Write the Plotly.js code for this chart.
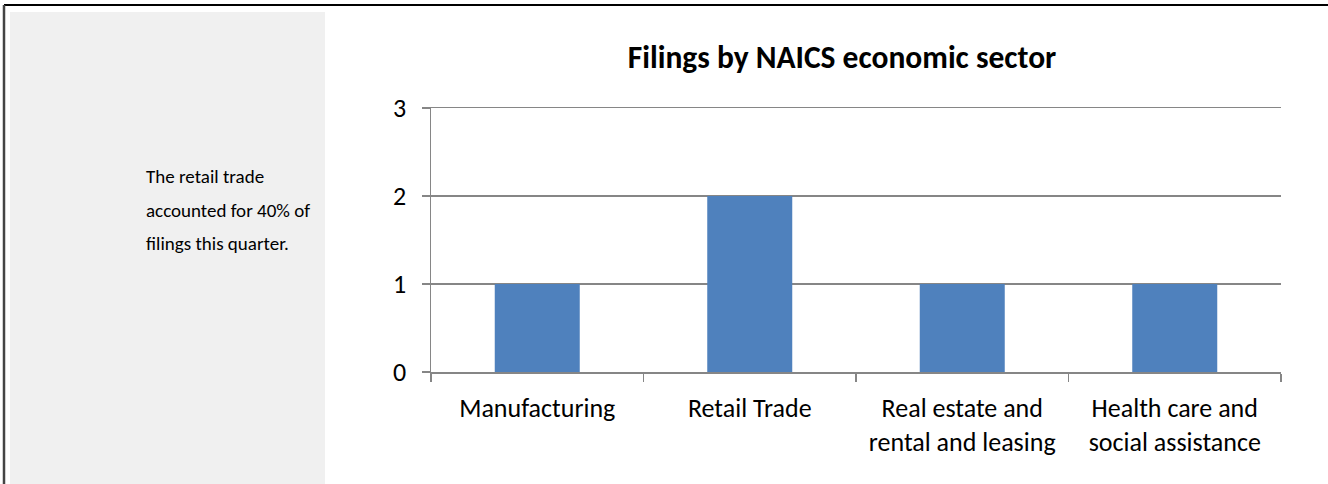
<!DOCTYPE html>
<html>
<head>
<meta charset="utf-8">
<script src="https://cdn.plot.ly/plotly-3.0.1.min.js"></script>
<style>
  html, body { margin: 0; padding: 0; background: #fff; }
  #chart { width: 1328px; height: 484px; }
</style>
</head>
<body>
<div id="chart"></div>
<script>
const categories = ["Manufacturing", "Retail Trade", "Real estate and<br>rental and leasing", "Health care and<br>social assistance"];
const filings = [1, 2, 1, 1];
const yTicks = [0, 1, 2, 3];
const chartTitle = "Filings by NAICS economic sector";
const sideNoteLines = ["The retail trade", "accounted for 40% of", "filings this quarter."];

const font = "Carlito, Calibri, Lato, 'Open Sans', sans-serif";

const trace = {
  type: "bar",
  x: categories,
  y: filings,
  marker: { color: "#4f81bd" },
  hoverinfo: "x+y"
};

// plot area in pixels
const PL = 431, PR = 1281, PT = 108, PB = 372;
const px2x = (px) => (px - PL) / (PR - PL);
const py2y = (py) => (PB - py) / (PB - PT);

const noteLineY = [176, 210, 243];

const layout = {
  width: 1328,
  height: 484,
  margin: { l: PL, r: 1328 - PR, t: PT, b: 484 - PB },
  paper_bgcolor: "#ffffff",
  plot_bgcolor: "#ffffff",
  showlegend: false,
  bargap: 0.6,
  font: { family: font, size: 26, color: "#000" },
  title: {
    text: "<b>" + chartTitle + "</b>",
    font: { family: font, size: 31.5, color: "#000" },
    xref: "container", x: 842 / 1328, xanchor: "center",
    yref: "container", y: 1 - 57 / 484, yanchor: "middle"
  },
  xaxis: {
    type: "category",
    showline: true, linecolor: "#868686", linewidth: 1.5, mirror: true,
    ticks: "outside", tickson: "boundaries", ticklen: 8, tickcolor: "#868686", tickwidth: 1.5,
    ticklabelstandoff: 12,
    showgrid: false,
    tickfont: { family: font, size: 26, color: "#000" },
    fixedrange: true
  },
  yaxis: {
    range: [0, 3],
    tickvals: yTicks,
    ticktext: yTicks.map(String),
    showline: true, linecolor: "#868686", linewidth: 1.5,
    ticks: "outside", ticklen: 8, tickcolor: "#868686", tickwidth: 1.5,
    ticklabelstandoff: 10,
    showgrid: true, gridcolor: "#868686", gridwidth: 1.5,
    zeroline: false,
    tickfont: { family: font, size: 26, color: "#000" },
    fixedrange: true
  },
  shapes: [
    { type: "rect", xref: "paper", yref: "paper",
      x0: px2x(10), x1: px2x(325), y0: py2y(484), y1: py2y(12),
      fillcolor: "#f0f0f0", line: { width: 0 }, layer: "below" },
    { type: "line", xref: "paper", yref: "paper",
      x0: px2x(4), x1: px2x(1328), y0: py2y(5), y1: py2y(5),
      line: { color: "#000", width: 2 } },
    { type: "line", xref: "paper", yref: "paper",
      x0: px2x(4), x1: px2x(4), y0: py2y(484), y1: py2y(5),
      line: { color: "#444", width: 2.5 } }
  ],
  annotations: sideNoteLines.map((t, i) => ({
    text: t, xref: "paper", yref: "paper",
    x: px2x(144), xanchor: "left",
    y: py2y(noteLineY[i]), yanchor: "middle",
    align: "left", showarrow: false,
    font: { family: font, size: 19, color: "#000" }
  }))
};

Plotly.newPlot("chart", [trace], layout, { displayModeBar: false, staticPlot: true });
</script>
</body>
</html>
